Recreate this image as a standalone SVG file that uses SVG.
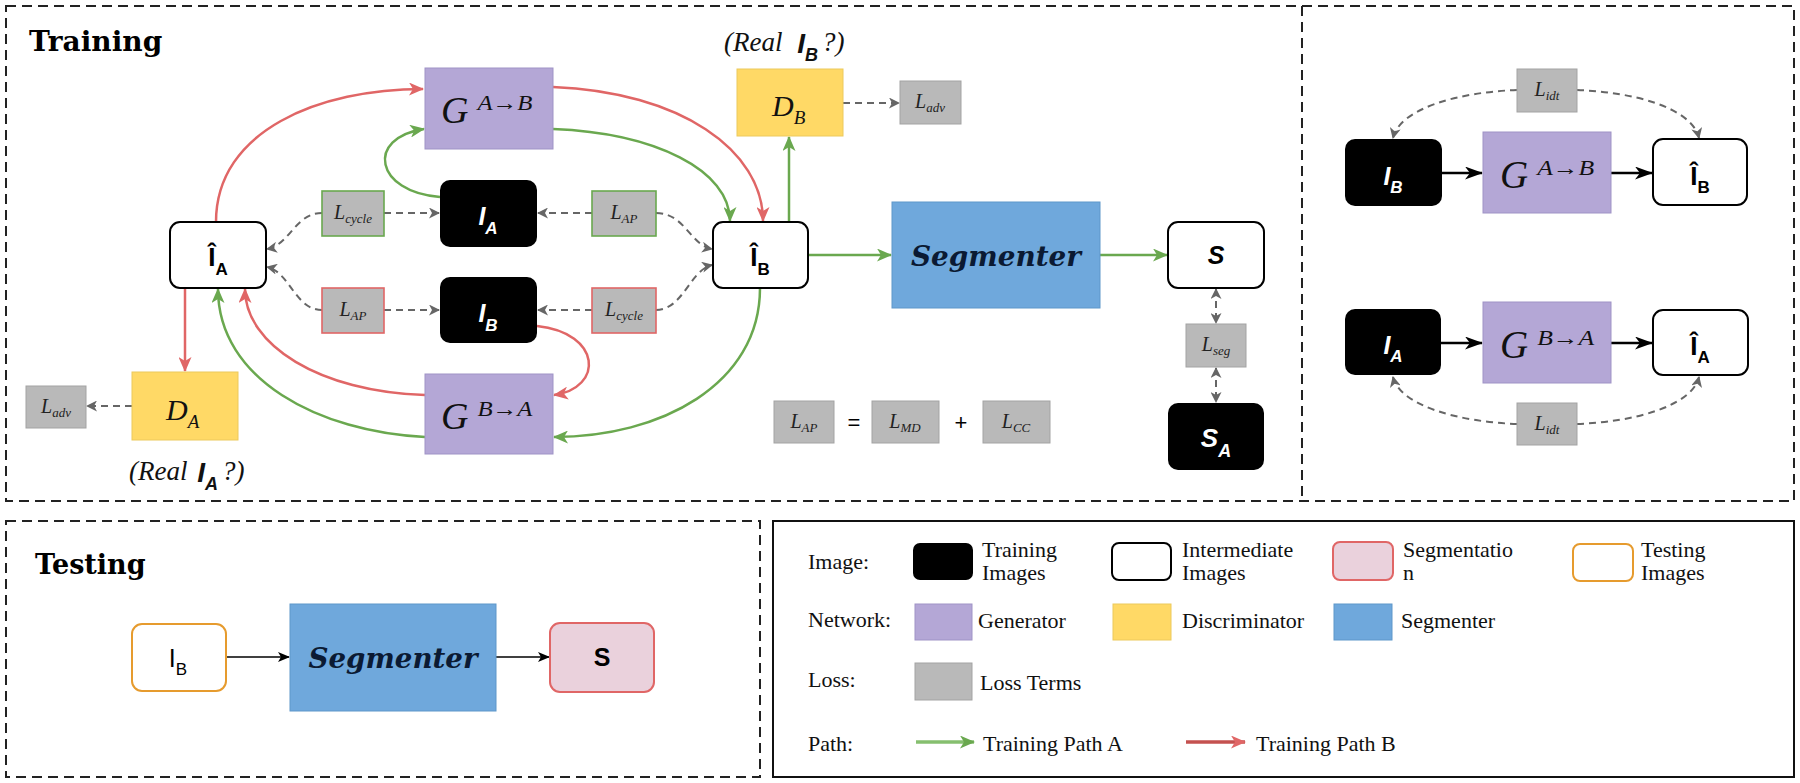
<svg xmlns="http://www.w3.org/2000/svg" width="1800" height="783" viewBox="0 0 1800 783">
<defs>
<style>
.panel{fill:none;stroke:#222;stroke-width:2;stroke-dasharray:10 6}
.img{fill:#000}
.inter{fill:#fff;stroke:#000;stroke-width:2}
.gen{fill:#b4a7d6;stroke:#9f93c6;stroke-width:1}
.dis{fill:#ffd966;stroke:#ecc95c;stroke-width:1}
.seg{fill:#6fa8dc;stroke:#5f97ca;stroke-width:1}
.loss{fill:#b9b9b9;stroke:#a3a3a3;stroke-width:1}
.lg{stroke:#6aa84f;stroke-width:1.6}
.lr{stroke:#e06666;stroke-width:1.6}
.pg{fill:none;stroke:#6aa84f;stroke-width:2.5}
.pr{fill:none;stroke:#e06666;stroke-width:2.5}
.dsh{fill:none;stroke:#666;stroke-width:2;stroke-dasharray:7 5}
.blk{fill:none;stroke:#000;stroke-width:2.5}
.thin{fill:none;stroke:#000;stroke-width:1.6}
.m{font-family:"Liberation Serif","Times New Roman",serif;font-style:italic;fill:#111}
.lt{font-family:"Liberation Serif","Times New Roman",serif;font-style:italic;font-size:20px;fill:#222}
.sb{font-size:13px}
.s{font-family:"Liberation Sans",Arial,sans-serif;font-weight:bold}
.n{font-family:"Liberation Sans",Arial,sans-serif;font-weight:normal}
.w{fill:#fff;font-style:italic}
.leg{font-family:"Liberation Serif","Times New Roman",serif;font-size:22px;fill:#111}
.title{font-family:"DejaVu Serif",serif;font-weight:bold;fill:#000}
.segt{font-family:"DejaVu Serif",serif;font-weight:bold;font-style:italic;font-size:27px;fill:#0b1a33}
</style>
<marker id="ag" viewBox="0 0 15 13" refX="14" refY="6.5" markerWidth="15" markerHeight="13" markerUnits="userSpaceOnUse" orient="auto"><path d="M0,0 L15,6.5 L0,13 L4,6.5 z" fill="#6aa84f"/></marker>
<marker id="ar" viewBox="0 0 15 13" refX="14" refY="6.5" markerWidth="15" markerHeight="13" markerUnits="userSpaceOnUse" orient="auto"><path d="M0,0 L15,6.5 L0,13 L4,6.5 z" fill="#e06666"/></marker>
<marker id="ad" viewBox="0 0 11 11" refX="10" refY="5.5" markerWidth="11" markerHeight="11" markerUnits="userSpaceOnUse" orient="auto-start-reverse"><path d="M0,0 L11,5.5 L0,11 L3,5.5 z" fill="#666"/></marker>
<marker id="ak" viewBox="0 0 18 13" refX="17" refY="6.5" markerWidth="18" markerHeight="13" markerUnits="userSpaceOnUse" orient="auto"><path d="M0,0 L18,6.5 L0,13 L5,6.5 z" fill="#000"/></marker>
<marker id="ak2" viewBox="0 0 12 10" refX="11" refY="5" markerWidth="12" markerHeight="10" markerUnits="userSpaceOnUse" orient="auto"><path d="M0,0 L12,5 L0,10 L3,5 z" fill="#000"/></marker>
</defs>
<rect width="1800" height="783" fill="#fff"/>

<!-- panels -->
<g id="panels">
<rect class="panel" x="6" y="6" width="1788" height="495"/>
<line class="panel" x1="1302" y1="6" x2="1302" y2="501"/>
<rect class="panel" x="6" y="521" width="754" height="256"/>
<rect x="773" y="521" width="1021" height="256" fill="none" stroke="#111" stroke-width="2"/>
<text class="title" x="29" y="51" font-size="28">Training</text>
<text class="title" x="35" y="574" font-size="27">Testing</text>
</g>

<g id="connectors">
<path class="pr" d="M216,222 C216,130 320,89 423,89" marker-end="url(#ar)"/>
<path class="pr" d="M553,87 C680,92 763,150 763,221" marker-end="url(#ar)"/>
<path class="pr" d="M537,326 C602,333 604,388 554,395" marker-end="url(#ar)"/>
<path class="pr" d="M425,395 C320,392 245,345 245,289" marker-end="url(#ar)"/>
<path class="pr" d="M185,288 L185,371" marker-end="url(#ar)"/>
<path class="pg" d="M440,197 C375,192 365,138 424,129" marker-end="url(#ag)"/>
<path class="pg" d="M553,129 C655,133 730,170 730,221" marker-end="url(#ag)"/>
<path class="pg" d="M789,222 L789,137" marker-end="url(#ag)"/>
<path class="pg" d="M808,255 L891,255" marker-end="url(#ag)"/>
<path class="pg" d="M1100,255 L1167,255" marker-end="url(#ag)"/>
<path class="pg" d="M760,288 C760,385 660,437 554,437" marker-end="url(#ag)"/>
<path class="pg" d="M425,437 C320,432 218,380 218,289" marker-end="url(#ag)"/>
<path class="dsh" d="M843,103 L899,103" marker-end="url(#ad)"/>
<path class="dsh" d="M132,406 L87,406" marker-end="url(#ad)"/>
<path class="dsh" d="M384,213 L439,213" marker-end="url(#ad)"/>
<path class="dsh" d="M322,213 C295,213 290,245 267,249" marker-end="url(#ad)"/>
<path class="dsh" d="M384,310 L439,310" marker-end="url(#ad)"/>
<path class="dsh" d="M322,310 C295,310 290,272 267,267" marker-end="url(#ad)"/>
<path class="dsh" d="M592,213 L538,213" marker-end="url(#ad)"/>
<path class="dsh" d="M656,213 C685,213 690,245 712,249" marker-end="url(#ad)"/>
<path class="dsh" d="M592,310 L538,310" marker-end="url(#ad)"/>
<path class="dsh" d="M656,310 C683,310 690,270 712,265" marker-end="url(#ad)"/>
<path class="dsh" d="M1216,289 L1216,323" marker-start="url(#ad)" marker-end="url(#ad)"/>
<path class="dsh" d="M1216,368 L1216,402" marker-start="url(#ad)" marker-end="url(#ad)"/>
<path class="blk" d="M1442,173 L1482,173" marker-end="url(#ak)"/>
<path class="blk" d="M1611,173 L1652,173" marker-end="url(#ak)"/>
<path class="blk" d="M1441,343 L1482,343" marker-end="url(#ak)"/>
<path class="blk" d="M1611,343 L1652,343" marker-end="url(#ak)"/>
<path class="dsh" d="M1517,90 C1460,92 1400,108 1393,138" marker-end="url(#ad)"/>
<path class="dsh" d="M1577,90 C1634,92 1692,108 1699,138" marker-end="url(#ad)"/>
<path class="dsh" d="M1517,424 C1460,422 1400,406 1393,377" marker-end="url(#ad)"/>
<path class="dsh" d="M1577,424 C1634,422 1692,406 1699,377" marker-end="url(#ad)"/>
<path class="thin" d="M226,657 L289,657" marker-end="url(#ak2)"/>
<path class="thin" d="M496,657 L549,657" marker-end="url(#ak2)"/>
</g>

<!-- training nodes -->
<g id="gAB"><rect class="gen" x="425" y="68" width="128" height="81"/><text class="m" x="441" y="123" font-size="38">G<tspan font-size="21" dx="9" dy="-13" textLength="55" lengthAdjust="spacingAndGlyphs">A→B</tspan></text></g>
<g id="gBA"><rect class="gen" x="425" y="374" width="128" height="80"/><text class="m" x="441" y="429" font-size="38">G<tspan font-size="21" dx="9" dy="-13" textLength="55" lengthAdjust="spacingAndGlyphs">B→A</tspan></text></g>
<g id="iA"><rect class="img" x="440" y="180" width="97" height="67" rx="10"/><text class="s w" x="488" y="225" text-anchor="middle" font-size="25">I<tspan font-size="17" dy="9">A</tspan></text></g>
<g id="iB"><rect class="img" x="440" y="277" width="97" height="66" rx="10"/><text class="s w" x="488" y="322" text-anchor="middle" font-size="25">I<tspan font-size="17" dy="9">B</tspan></text></g>
<g id="hatA"><rect class="inter" x="170" y="222" width="96" height="66" rx="10"/><text class="s" x="218" y="266" text-anchor="middle" font-size="26">Î<tspan font-size="17" dy="9">A</tspan></text></g>
<g id="hatB"><rect class="inter" x="713" y="222" width="95" height="66" rx="10"/><text class="s" x="760" y="266" text-anchor="middle" font-size="26">Î<tspan font-size="17" dy="9">B</tspan></text></g>
<g id="dB"><rect class="dis" x="737" y="69" width="106" height="67"/><text class="m" x="772" y="116" font-size="30">D<tspan font-size="19" dy="8">B</tspan></text></g>
<g id="dA"><rect class="dis" x="132" y="372" width="106" height="68"/><text class="m" x="166" y="420" font-size="30">D<tspan font-size="19" dy="8">A</tspan></text></g>
<g id="realB"><text class="m" x="724" y="51" font-size="27">(Real <tspan class="s" font-size="28" dx="8" dy="2">I</tspan><tspan class="s" font-size="18" dy="8">B</tspan><tspan dx="4" dy="-10">?)</tspan></text></g>
<g id="realA"><text class="m" x="129" y="480" font-size="27">(Real <tspan class="s" font-size="28" dx="3" dy="2">I</tspan><tspan class="s" font-size="18" dy="8">A</tspan><tspan dx="4" dy="-10">?)</tspan></text></g>
<g id="segmenter"><rect class="seg" x="892" y="202" width="208" height="106"/><text class="segt" x="996" y="266" text-anchor="middle" textLength="170" lengthAdjust="spacingAndGlyphs">Segmenter</text></g>
<g id="sOut"><rect class="inter" x="1168" y="222" width="96" height="66" rx="10"/><text class="s" x="1216" y="264" text-anchor="middle" font-size="25" font-style="italic">S</text></g>
<g id="sA"><rect class="img" x="1168" y="403" width="96" height="67" rx="10"/><text class="s w" x="1216" y="447" text-anchor="middle" font-size="26">S<tspan font-size="18" dy="10">A</tspan></text></g>

<g id="lossCycleA"><rect class="loss lg" x="322" y="191" width="62" height="45"/><text class="lt" x="353" y="219" text-anchor="middle">L<tspan class="sb" dy="4">cycle</tspan></text></g>
<g id="lossApA"><rect class="loss lg" x="592" y="191" width="64" height="45"/><text class="lt" x="624" y="219" text-anchor="middle">L<tspan class="sb" dy="4">AP</tspan></text></g>
<g id="lossApB"><rect class="loss lr" x="322" y="288" width="62" height="45"/><text class="lt" x="353" y="316" text-anchor="middle">L<tspan class="sb" dy="4">AP</tspan></text></g>
<g id="lossCycleB"><rect class="loss lr" x="592" y="288" width="64" height="45"/><text class="lt" x="624" y="316" text-anchor="middle">L<tspan class="sb" dy="4">cycle</tspan></text></g>
<g id="lossAdvB"><rect class="loss" x="900" y="81" width="61" height="43"/><text class="lt" x="930" y="108" text-anchor="middle">L<tspan class="sb" dy="4">adv</tspan></text></g>
<g id="lossAdvA"><rect class="loss" x="26" y="386" width="60" height="42"/><text class="lt" x="56" y="413" text-anchor="middle">L<tspan class="sb" dy="4">adv</tspan></text></g>
<g id="lossSeg"><rect class="loss" x="1186" y="324" width="60" height="43"/><text class="lt" x="1216" y="351" text-anchor="middle">L<tspan class="sb" dy="4">seg</tspan></text></g>
<g id="eqAP"><rect class="loss" x="774" y="401" width="60" height="42"/><text class="lt" x="804" y="428" text-anchor="middle">L<tspan class="sb" dy="4">AP</tspan></text></g>
<g id="eqMD"><rect class="loss" x="872" y="401" width="67" height="42"/><text class="lt" x="905" y="428" text-anchor="middle">L<tspan class="sb" dy="4">MD</tspan></text></g>
<g id="eqCC"><rect class="loss" x="983" y="401" width="67" height="42"/><text class="lt" x="1016" y="428" text-anchor="middle">L<tspan class="sb" dy="4">CC</tspan></text></g>
<g id="eqSigns"><text class="n" x="854" y="430" text-anchor="middle" font-size="22">=</text><text class="n" x="961" y="430" text-anchor="middle" font-size="22">+</text></g>

<!-- identity panel -->
<g id="idIB"><rect class="img" x="1345" y="139" width="97" height="67" rx="10"/><text class="s w" x="1393" y="185" text-anchor="middle" font-size="25">I<tspan font-size="17" dy="8">B</tspan></text></g>
<g id="idGAB"><rect class="gen" x="1483" y="132" width="128" height="81"/><text class="m" x="1500" y="188" font-size="39">G<tspan font-size="21" dx="9" dy="-13" textLength="57" lengthAdjust="spacingAndGlyphs">A→B</tspan></text></g>
<g id="idHatB"><rect class="inter" x="1653" y="139" width="94" height="66" rx="10"/><text class="s" x="1700" y="185" text-anchor="middle" font-size="26">Î<tspan font-size="17" dy="8">B</tspan></text></g>
<g id="idLossTop"><rect class="loss" x="1517" y="69" width="60" height="43"/><text class="lt" x="1547" y="96" text-anchor="middle">L<tspan class="sb" dy="4">idt</tspan></text></g>
<g id="idIA"><rect class="img" x="1345" y="309" width="96" height="66" rx="10"/><text class="s w" x="1393" y="354" text-anchor="middle" font-size="25">I<tspan font-size="17" dy="8">A</tspan></text></g>
<g id="idGBA"><rect class="gen" x="1483" y="302" width="128" height="81"/><text class="m" x="1500" y="358" font-size="39">G<tspan font-size="21" dx="9" dy="-13" textLength="57" lengthAdjust="spacingAndGlyphs">B→A</tspan></text></g>
<g id="idHatA"><rect class="inter" x="1653" y="310" width="95" height="65" rx="10"/><text class="s" x="1700" y="355" text-anchor="middle" font-size="26">Î<tspan font-size="17" dy="8">A</tspan></text></g>
<g id="idLossBot"><rect class="loss" x="1517" y="403" width="60" height="42"/><text class="lt" x="1547" y="430" text-anchor="middle">L<tspan class="sb" dy="4">idt</tspan></text></g>

<!-- testing -->
<g id="testIB"><rect x="132" y="624" width="94" height="67" rx="10" fill="#fff" stroke="#e69b2e" stroke-width="2"/><text class="n" x="178" y="667" text-anchor="middle" font-size="25">I<tspan font-size="17" dy="8">B</tspan></text></g>
<g id="testSeg"><rect class="seg" x="290" y="604" width="206" height="107"/><text class="segt" x="393" y="668" text-anchor="middle" textLength="169" lengthAdjust="spacingAndGlyphs">Segmenter</text></g>
<g id="testS"><rect x="550" y="623" width="104" height="69" rx="10" fill="#ead1dc" stroke="#e06666" stroke-width="2"/><text class="s" x="602" y="666" text-anchor="middle" font-size="25">S</text></g>

<!-- legend -->
<g id="legend">
<text class="leg" x="808" y="569">Image:</text>
<rect x="913" y="543" width="60" height="37" rx="7" fill="#000"/>
<text class="leg" x="982" y="557">Training</text><text class="leg" x="982" y="580">Images</text>
<rect x="1112" y="543" width="59" height="37" rx="7" fill="#fff" stroke="#000" stroke-width="2"/>
<text class="leg" x="1182" y="557">Intermediate</text><text class="leg" x="1182" y="580">Images</text>
<rect x="1333" y="542" width="60" height="38" rx="7" fill="#ead1dc" stroke="#e06666" stroke-width="2"/>
<text class="leg" x="1403" y="557">Segmentatio</text><text class="leg" x="1403" y="580">n</text>
<rect x="1573" y="544" width="60" height="37" rx="7" fill="#fff" stroke="#e69b2e" stroke-width="2"/>
<text class="leg" x="1641" y="557">Testing</text><text class="leg" x="1641" y="580">Images</text>
<text class="leg" x="808" y="627">Network:</text>
<rect class="gen" x="915" y="604" width="57" height="36"/>
<text class="leg" x="978" y="628">Generator</text>
<rect class="dis" x="1113" y="604" width="58" height="36"/>
<text class="leg" x="1182" y="628">Discriminator</text>
<rect class="seg" x="1334" y="604" width="58" height="36"/>
<text class="leg" x="1401" y="628">Segmenter</text>
<text class="leg" x="808" y="687">Loss:</text>
<rect class="loss" x="915" y="663" width="57" height="37"/>
<text class="leg" x="980" y="690">Loss Terms</text>
<text class="leg" x="808" y="751">Path:</text>
<path d="M916,742 L974,742" stroke="#86bf6f" stroke-width="3.5" fill="none" marker-end="url(#ag)"/>
<text class="leg" x="983" y="751">Training Path A</text>
<path d="M1186,742 L1245,742" stroke="#c4514f" stroke-width="3.5" fill="none" marker-end="url(#ar)"/>
<text class="leg" x="1256" y="751">Training Path B</text>
</g>
</svg>
